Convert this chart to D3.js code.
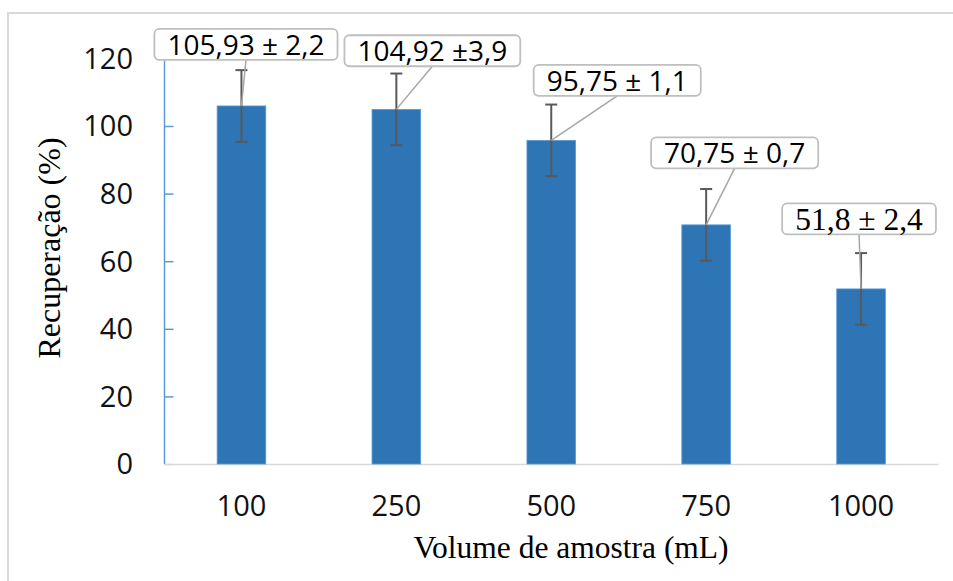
<!DOCTYPE html>
<html>
<head>
<meta charset="utf-8">
<script src="https://cdn.jsdelivr.net/npm/d3@7"></script>
<style>
  html, body { margin: 0; padding: 0; background: #fff; }
  svg { display: block; }
</style>
</head>
<body>
<svg id="chart" width="953" height="581"></svg>
<script>
// ---- data ----
const categories = ["100", "250", "500", "750", "1000"];
const recovery = [105.93, 104.92, 95.75, 70.75, 51.8];
const errorBars = [10.6, 10.6, 10.6, 10.6, 10.6];
const labelTexts = ["105,93 ± 2,2", "104,92 ±3,9", "95,75 ± 1,1", "70,75 ± 0,7", "51,8 ± 2,4"];
const yTicks = [0, 20, 40, 60, 80, 100, 120];
const xTitle = "Volume de amostra (mL)";
const yTitle = "Recuperação (%)";

// ---- layout (positions/styles, not data) ----
const labelDx = [4.5, 36, 66, 28.5, -2];
const labelDy = [-61.5, -58.6, -60, -72, -70];
const labelSerif = [false, false, false, false, true];

const svg = d3.select("#chart");
const W = 953, H = 581;
const plot = { left: 164, right: 938.5, top: 58.4, bottom: 464 };

// outer border
svg.append("rect").attr("x", 8).attr("y", 13).attr("width", W + 10).attr("height", H + 10)
  .attr("fill", "#fff").attr("stroke", "#d9d9d9").attr("stroke-width", 2);

const x = d3.scaleBand().domain(categories).range([plot.left, plot.right])
  .paddingInner(0.686).paddingOuter(0.343);
const y = d3.scaleLinear().domain([0, 120]).range([plot.bottom, plot.top]);

const sans = "'Open Sans', sans-serif";
const serif = "'Liberation Serif', 'Times New Roman', serif";

// x axis line
svg.append("line").attr("x1", plot.left).attr("x2", plot.right)
  .attr("y1", y(0) + 0.5).attr("y2", y(0) + 0.5)
  .attr("stroke", "#d9d9d9").attr("stroke-width", 1.5);

// y axis (inner ticks, blue)
const yAxis = d3.axisRight(y).tickValues(yTicks).tickSize(9).tickFormat("");
const yg = svg.append("g").attr("transform", `translate(${plot.left + 0.5},0)`).call(yAxis);
yg.select(".domain").attr("stroke", "#5b9bd5").attr("stroke-width", 1.5)
  .attr("d", `M0,${y(120) + 2}V${y(0)}`);
yg.selectAll(".tick line").attr("stroke", "#5b9bd5").attr("stroke-width", 1.5);
yg.selectAll(".tick").filter(d => d === 0).select("line").attr("stroke", "#d9d9d9");

// y tick labels
svg.append("g").selectAll("text").data(yTicks).join("text")
  .attr("x", 133).attr("y", d => y(d) + 10.3)
  .attr("text-anchor", "end").attr("font-family", sans).attr("font-size", 29)
  .attr("fill", "#111").text(d => d);

// x tick labels
svg.append("g").selectAll("text").data(categories).join("text")
  .attr("x", d => x(d) + x.bandwidth() / 2).attr("y", 516)
  .attr("text-anchor", "middle").attr("font-family", sans).attr("font-size", 29)
  .attr("fill", "#111").text(d => d);

// bars
svg.append("g").selectAll("rect").data(recovery).join("rect")
  .attr("x", (d, i) => x(categories[i]))
  .attr("y", d => y(d))
  .attr("width", x.bandwidth())
  .attr("height", d => y(0) - y(d))
  .attr("fill", "#2e75b6").attr("stroke", "#5b9bd5").attr("stroke-width", 0.8);

// error bars
const eg = svg.append("g").attr("stroke", "#595959").attr("stroke-width", 2);
recovery.forEach((v, i) => {
  const cx = x(categories[i]) + x.bandwidth() / 2;
  const top = y(v + errorBars[i]), bot = y(v - errorBars[i]);
  eg.append("line").attr("x1", cx).attr("x2", cx).attr("y1", top).attr("y2", bot);
  eg.append("line").attr("x1", cx - 6).attr("x2", cx + 6).attr("y1", top).attr("y2", top);
  eg.append("line").attr("x1", cx - 6).attr("x2", cx + 6).attr("y1", bot).attr("y2", bot);
});

// data labels with leader lines
const lg = svg.append("g");
recovery.forEach((v, i) => {
  const cx = x(categories[i]) + x.bandwidth() / 2;
  const by = y(v);
  const lx = cx + labelDx[i], ly = by + labelDy[i];
  const g = lg.append("g");
  const leader = g.append("line").attr("stroke", "#a6a6a6").attr("stroke-width", 1.5);
  const box = g.append("rect").attr("fill", "#fff").attr("stroke", "#bfbfbf")
    .attr("stroke-width", 1.8).attr("rx", 5).attr("ry", 5);
  const t = g.append("text").attr("x", lx).attr("text-anchor", "middle")
    .attr("font-family", labelSerif[i] ? serif : sans)
    .attr("font-size", labelSerif[i] ? 31.5 : 28)
    .attr("fill", "#000")
    .attr("y", ly + (labelSerif[i] ? 10.8 : 10.2))
    .text(labelTexts[i]);
  const bb = t.node().getBBox();
  const bw = bb.width + 26, bh = 31;
  box.attr("x", lx - bw / 2).attr("y", ly - bh / 2).attr("width", bw).attr("height", bh);
  leader.attr("x1", lx).attr("y1", ly + bh / 2).attr("x2", cx).attr("y2", by);
});

// axis titles
svg.append("text").attr("x", 571).attr("y", 558)
  .attr("text-anchor", "middle").attr("font-family", serif).attr("font-size", 31.5)
  .attr("fill", "#000").text(xTitle);
svg.append("text").attr("transform", "translate(60,248) rotate(-90)")
  .attr("text-anchor", "middle").attr("font-family", serif).attr("font-size", 32)
  .attr("fill", "#000").text(yTitle);
</script>
</body>
</html>
